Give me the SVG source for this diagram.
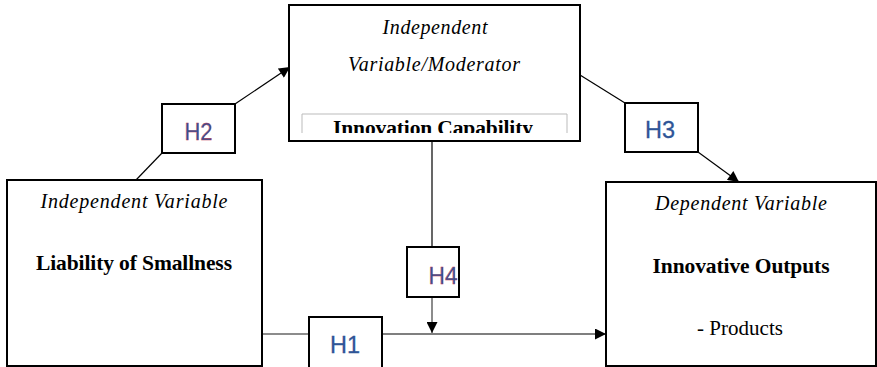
<svg xmlns="http://www.w3.org/2000/svg" width="877" height="367" viewBox="0 0 877 367">
<style>
.box{fill:#fff;stroke:#000;stroke-width:2}
.hbox{fill:#fff;stroke:#000;stroke-width:2}
.it{font-family:"Liberation Serif","Times New Roman",serif;font-style:italic;font-size:20px;fill:#000;text-anchor:middle}
.bd{font-family:"Liberation Serif","Times New Roman",serif;font-weight:bold;font-size:21.5px;fill:#000;text-anchor:middle}
.rg{font-family:"Liberation Serif","Times New Roman",serif;font-size:21px;fill:#000;text-anchor:middle}
.h{font-family:"Liberation Sans",Arial,sans-serif;font-size:24px;fill:#2F5597;stroke:#2F5597;stroke-width:0.3;text-anchor:middle}
.hr{stroke:#c0304a;stroke-width:0.35}
.ln{stroke:#000;stroke-width:1.2;fill:none}
.lg{stroke:#666;stroke-width:1.5;fill:none}
</style>
<defs>
<marker id="ah" viewBox="0 0 10 10" refX="10" refY="5" markerWidth="12" markerHeight="11" markerUnits="userSpaceOnUse" orient="auto">
<path d="M0,0 L10,5 L0,10 z" fill="#000"/>
</marker>
<clipPath id="cl"><rect x="300" y="110" width="270" height="23"/></clipPath>
</defs>
<rect width="877" height="367" fill="#fff"/>
<g id="connectors">
<line class="ln" x1="136" y1="180" x2="162" y2="153"/>
<line class="ln" x1="235" y1="104" x2="290" y2="67" marker-end="url(#ah)"/>
<line class="ln" x1="580" y1="75" x2="625" y2="103"/>
<line class="ln" x1="698" y1="152" x2="739" y2="182" marker-end="url(#ah)"/>
<line class="ln" x1="432" y1="141" x2="432" y2="247"/>
<line class="lg" x1="432" y1="297" x2="432" y2="333" marker-end="url(#ah)"/>
<line class="lg" x1="262" y1="334" x2="309" y2="334"/>
<line class="ln" x1="382" y1="334" x2="606" y2="334" marker-end="url(#ah)"/>
</g>
<g id="moderator">
<rect class="box" x="289" y="5" width="291" height="136"/>
<text class="it" x="435" y="34" textLength="105">Independent</text>
<text class="it" x="434" y="71" textLength="172">Variable/Moderator</text>
<path d="M302,133 V114 H567 V133" fill="none" stroke="#bbb" stroke-width="1"/>
<g clip-path="url(#cl)"><text class="bd" x="433" y="135" textLength="200">Innovation Capability</text></g>
</g>
<g id="independent">
<rect class="box" x="7" y="180" width="255" height="186"/>
<text class="it" x="134" y="208" textLength="187">Independent Variable</text>
<text class="bd" x="134" y="270" textLength="196">Liability of Smallness</text>
</g>
<g id="dependent">
<rect class="box" x="606" y="182" width="270" height="184"/>
<text class="it" x="741" y="210" textLength="172">Dependent Variable</text>
<text class="bd" x="741" y="273" textLength="177">Innovative Outputs</text>
<text class="rg" x="740" y="335" textLength="86">- Products</text>
</g>
<g id="h2"><rect class="hbox" x="162" y="104" width="73" height="49"/><text class="h hr" x="198.5" y="140" textLength="28" lengthAdjust="spacingAndGlyphs">H2</text></g>
<g id="h3"><rect class="hbox" x="625" y="103" width="73" height="49"/><text class="h" x="660" y="138" textLength="30" lengthAdjust="spacingAndGlyphs">H3</text></g>
<g id="h4"><rect class="hbox" x="407" y="247" width="52" height="50"/><text class="h hr" x="443" y="284" textLength="29" lengthAdjust="spacingAndGlyphs">H4</text></g>
<g id="h1"><rect class="hbox" x="309" y="317" width="73" height="55"/><text class="h" x="345" y="353" textLength="30" lengthAdjust="spacingAndGlyphs">H1</text></g>
</svg>
